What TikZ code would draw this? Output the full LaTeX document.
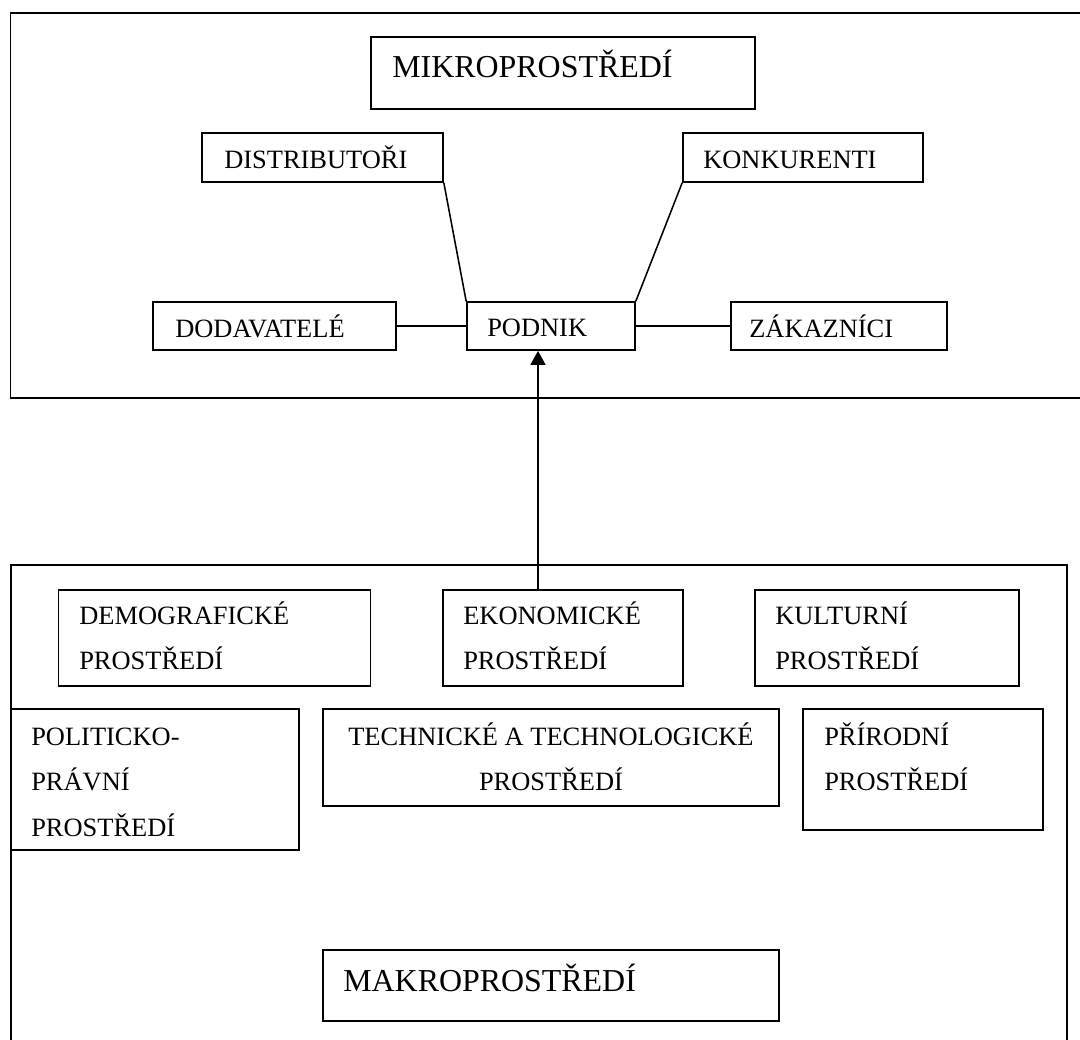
\documentclass[tikz,border=0pt]{standalone}
\usepackage{fontspec}
\setmainfont{Liberation Serif}
\usetikzlibrary{fit,arrows.meta}
\newcommand\mlines[1]{\vtop{\baselineskip=32.7pt\halign{##\hfil\cr#1\crcr}}}
\newcommand\mlinesc[1]{\vtop{\baselineskip=32.7pt\halign{\hfil##\hfil\cr#1\crcr}}}
\tikzset{
  box/.style={draw=black, line width=1.2pt, inner sep=0pt, fill=none},
  lab/.style={inner sep=0pt, font=\fontsize{18.8}{32.7}\selectfont},
  biglab/.style={inner sep=0pt, font=\fontsize{22.7}{27}\selectfont},
  conn/.style={draw=black, line width=1.1pt},
  frame/.style={draw=black, line width=1.2pt},
}
\begin{document}
\begin{tikzpicture}[x=0.025cm, y=-0.025cm]
\useasboundingbox (0,0) rectangle (1080,1040);
% outer frames
\draw[frame] (1085,13) -- (10.5,13) -- (10.5,398) -- (1085,398);
\draw[frame] (11,1045) -- (11,565) -- (1067,565) -- (1067,1045);
% micro environment boxes
\node[box, fit={(371,37) (755,109)}] (mikro) {};
\node[biglab, anchor=base west] (mikrot) at (392,77) {MIKROPROSTŘEDÍ};
\node[box, fit={(202,133) (443,182)}] (dist) {};
\node[lab, anchor=base west] (distt) at (224,168) {DISTRIBUTOŘI};
\node[box, fit={(683,133) (923,182)}] (konk) {};
\node[lab, anchor=base west] (konkt) at (703,168) {KONKURENTI};
\node[box, fit={(153,302) (396,350)}] (dod) {};
\node[lab, anchor=base west] (dodt) at (175,337) {DODAVATELÉ};
\node[box, fit={(467,302) (635,350)}] (pod) {};
\node[lab, anchor=base west] (podt) at (487,336) {PODNIK};
\node[box, fit={(731,302) (947,350)}] (zak) {};
\node[lab, anchor=base west] (zakt) at (749,337) {ZÁKAZNÍCI};
% macro environment boxes
\node[box, fit={(58.5,590) (370.5,686)}] (demo) {};
\node[lab, anchor=base west] (demot) at (79,624) {\mlines{DEMOGRAFICKÉ\cr PROSTŘEDÍ}};
\node[box, fit={(443,590) (683,686)}] (ekon) {};
\node[lab, anchor=base west] (ekont) at (463,624) {\mlines{EKONOMICKÉ\cr PROSTŘEDÍ}};
\node[box, fit={(755,590) (1019,686)}] (kult) {};
\node[lab, anchor=base west] (kultt) at (775,624) {\mlines{KULTURNÍ\cr PROSTŘEDÍ}};
\node[box, fit={(11,709) (299,850)}] (polit) {};
\node[lab, anchor=base west] (politt) at (31,745) {\mlines{POLITICKO-\cr PRÁVNÍ\cr PROSTŘEDÍ}};
\node[box, fit={(323,709) (779,806)}] (tech) {};
\node[lab, anchor=base] (techt) at (551,745) {\mlinesc{TECHNICKÉ A TECHNOLOGICKÉ\cr PROSTŘEDÍ}};
\node[box, fit={(803,709) (1043,830)}] (prir) {};
\node[lab, anchor=base west] (prirt) at (824,745) {\mlines{PŘÍRODNÍ\cr PROSTŘEDÍ}};
\node[box, fit={(323,950) (779,1021)}] (makro) {};
\node[biglab, anchor=base west] (makrot) at (343,991) {MAKROPROSTŘEDÍ};
% connectors
\draw[conn] (dist.south east) -- (pod.north west);
\draw[conn] (konk.south west) -- (pod.north east);
\draw[conn] (dod.east) -- (pod.west);
\draw[conn] (pod.east) -- (zak.west);
\coordinate (ax) at (538,0);
\draw[conn, line width=1.6pt, -{Triangle[length=10pt,width=10.5pt]}] (ekon.north -| ax) -- (pod.south -| ax);
\end{tikzpicture}
\end{document}
